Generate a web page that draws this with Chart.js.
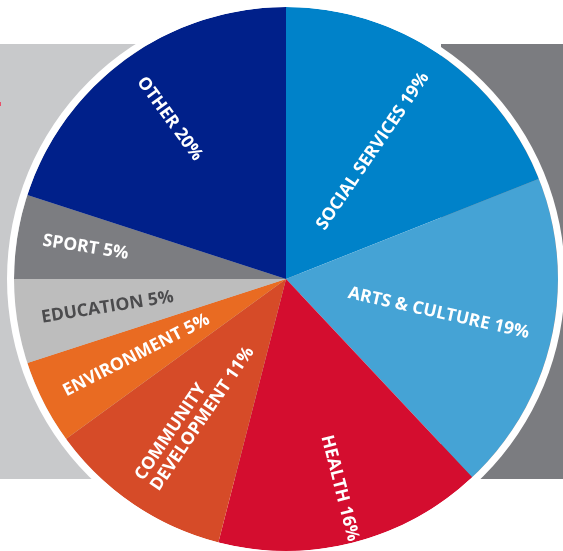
<!DOCTYPE html>
<html>
<head>
<meta charset="utf-8">
<script src="https://cdn.jsdelivr.net/npm/chart.js@4"></script>
<style>
  html, body { margin: 0; padding: 0; background: #fff; overflow: hidden; }
  body { width: 563px; height: 551px; position: relative; }
  #pie { position: absolute; left: -14px; top: -21px; }
</style>
</head>
<body>
<canvas id="pie" width="600" height="600"></canvas>
<script>
// share by sector, clockwise from 12 o'clock
var categories = ['SOCIAL SERVICES', 'ARTS & CULTURE', 'HEALTH', 'COMMUNITY\nDEVELOPMENT', 'ENVIRONMENT', 'EDUCATION', 'SPORT', 'OTHER'];
var shares = [19, 19, 16, 11, 5, 5, 5, 20];
var sliceColors = ['#0082c9', '#45a3d5', '#d40d2f', '#d64b28', '#e96b22', '#bdbdbd', '#7c7d81', '#00208a'];
var textColors = ['#fff', '#fff', '#fff', '#fff', '#fff', '#4b4b4d', '#fff', '#fff'];

// canvas is shifted, page origin sits at (14, 21) on it
var OX = 14, OY = 21;

var backdrop = {
  id: 'backdrop',
  beforeDraw: function(chart) {
    var ctx = chart.ctx;
    ctx.save();
    ctx.fillStyle = '#c8c9cb';
    ctx.fillRect(0, OY + 44, OX + 300, 435);
    ctx.fillStyle = '#7b7c80';
    ctx.fillRect(OX + 441, OY + 44, 200, 435);
    ctx.fillStyle = '#e8506a';
    ctx.fillRect(OX, OY + 102, 1, 4);
    ctx.restore();
  }
};

var sliceLabels = {
  id: 'sliceLabels',
  afterDatasetsDraw: function(chart, args, opts) {
    var ctx = chart.ctx;
    var meta = chart.getDatasetMeta(1);
    ctx.save();
    ctx.font = opts.font;
    ctx.textBaseline = 'middle';
    meta.data.forEach(function(arc, i) {
      var mid = (arc.startAngle + arc.endAngle) / 2;
      var lines = categories[i].split('\n');
      lines[lines.length - 1] += ' ' + shares[i] + '%';
      var reach = arc.outerRadius * opts.reach[i];
      var right = Math.cos(mid) >= 0;
      ctx.save();
      ctx.translate(arc.x, arc.y);
      ctx.rotate(right ? mid : mid + Math.PI);
      ctx.textAlign = right ? 'right' : 'left';
      ctx.fillStyle = textColors[i];
      lines.forEach(function(line, j) {
        var dy = (j - (lines.length - 1) / 2) * opts.lineHeight;
        ctx.fillText(line, right ? reach : -reach, dy);
      });
      ctx.restore();
    });
    ctx.restore();
  }
};

new Chart(document.getElementById('pie'), {
  type: 'pie',
  data: {
    labels: categories,
    datasets: [
      // thin white rim round the pie
      { data: [100], backgroundColor: ['#ffffff'], borderWidth: 0, weight: 7 },
      { data: shares, backgroundColor: sliceColors, borderWidth: 0, weight: 272 }
    ]
  },
  options: {
    responsive: false,
    animation: false,
    events: [],
    layout: { padding: 21 },
    plugins: {
      legend: { display: false },
      tooltip: { enabled: false },
      sliceLabels: {
        font: '700 17.5px "Open Sans"',
        lineHeight: 19,
        reach: [0.91, 0.915, 0.995, 0.91, 0.915, 0.91, 0.905, 0.91]
      }
    }
  },
  plugins: [backdrop, sliceLabels]
});
</script>
</body>
</html>
